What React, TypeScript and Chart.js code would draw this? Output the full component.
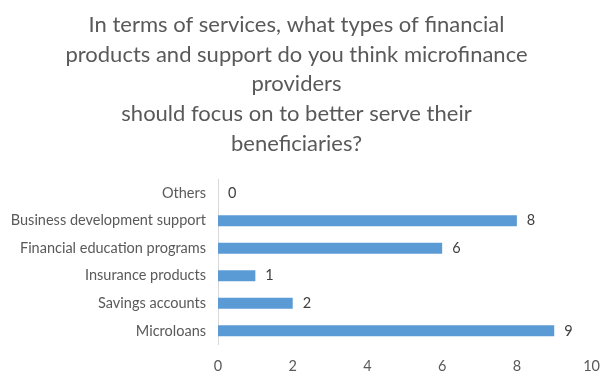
import React, { useEffect, useRef } from "react";
import { Chart, registerables } from "chart.js";

Chart.register(...registerables);

const titleLines = [
  "In terms of services, what types of financial",
  "products and support do you think microfinance",
  "providers",
  "should focus on to better serve their",
  "beneficiaries?",
];
const categories = [
  "Others",
  "Business development support",
  "Financial education programs",
  "Insurance products",
  "Savings accounts",
  "Microloans",
];
const values = [0, 8, 6, 1, 2, 9];
const xMin = 0;
const xMax = 10;
const xStep = 2;

const FONT = "Lato, 'Open Sans', sans-serif";

const valueLabels = {
  id: "valueLabels",
  afterDatasetsDraw(chart: any) {
    const { ctx } = chart;
    const meta = chart.getDatasetMeta(0);
    ctx.save();
    ctx.font = `14.5px ${FONT}`;
    ctx.fillStyle = "#404040";
    ctx.textAlign = "left";
    ctx.textBaseline = "middle";
    meta.data.forEach((bar: any, i: number) => {
      ctx.fillText(String(values[i]), bar.x + 10, bar.y);
    });
    ctx.restore();
  },
};

export default function App() {
  const ref = useRef<HTMLCanvasElement>(null);
  useEffect(() => {
    if (!ref.current) return;
    const chart = new Chart(ref.current, {
      type: "bar",
      data: {
        labels: categories,
        datasets: [
          {
            data: values,
            backgroundColor: "#5B9BD5",
            categoryPercentage: 0.8,
            barPercentage: 0.5,
          },
        ],
      },
      options: {
        indexAxis: "y",
        animation: false,
        responsive: false,
        layout: { padding: { left: 0, right: 20, top: 0, bottom: 2 } },
        plugins: {
          legend: { display: false },
          tooltip: { enabled: false },
          title: {
            display: true,
            text: titleLines,
            color: "#595959",
            font: { family: FONT, size: 22, weight: "normal", lineHeight: 1.35 },
            padding: { top: 10, bottom: 21 },
          },
        },
        scales: {
          x: {
            min: xMin,
            max: xMax,
            ticks: {
              stepSize: xStep,
              color: "#595959",
              font: { family: FONT, size: 14.5 },
              padding: 13,
            },
            grid: { display: false, drawTicks: false },
            border: { display: false },
          },
          y: {
            afterFit: (s: any) => {
              s.width = 218;
            },
            ticks: {
              color: "#595959",
              font: { family: FONT, size: 14.5 },
              padding: 12,
            },
            grid: { display: false, drawTicks: false },
            border: { display: true, color: "#D9D9D9", width: 1 },
          },
        },
      },
      plugins: [valueLabels],
    });
    return () => chart.destroy();
  }, []);
  return (
    <div style={{ position: "fixed", left: 0, top: 0, width: 613, height: 390, background: "#fff" }}>
      <canvas ref={ref} width={613} height={390} />
    </div>
  );
}
